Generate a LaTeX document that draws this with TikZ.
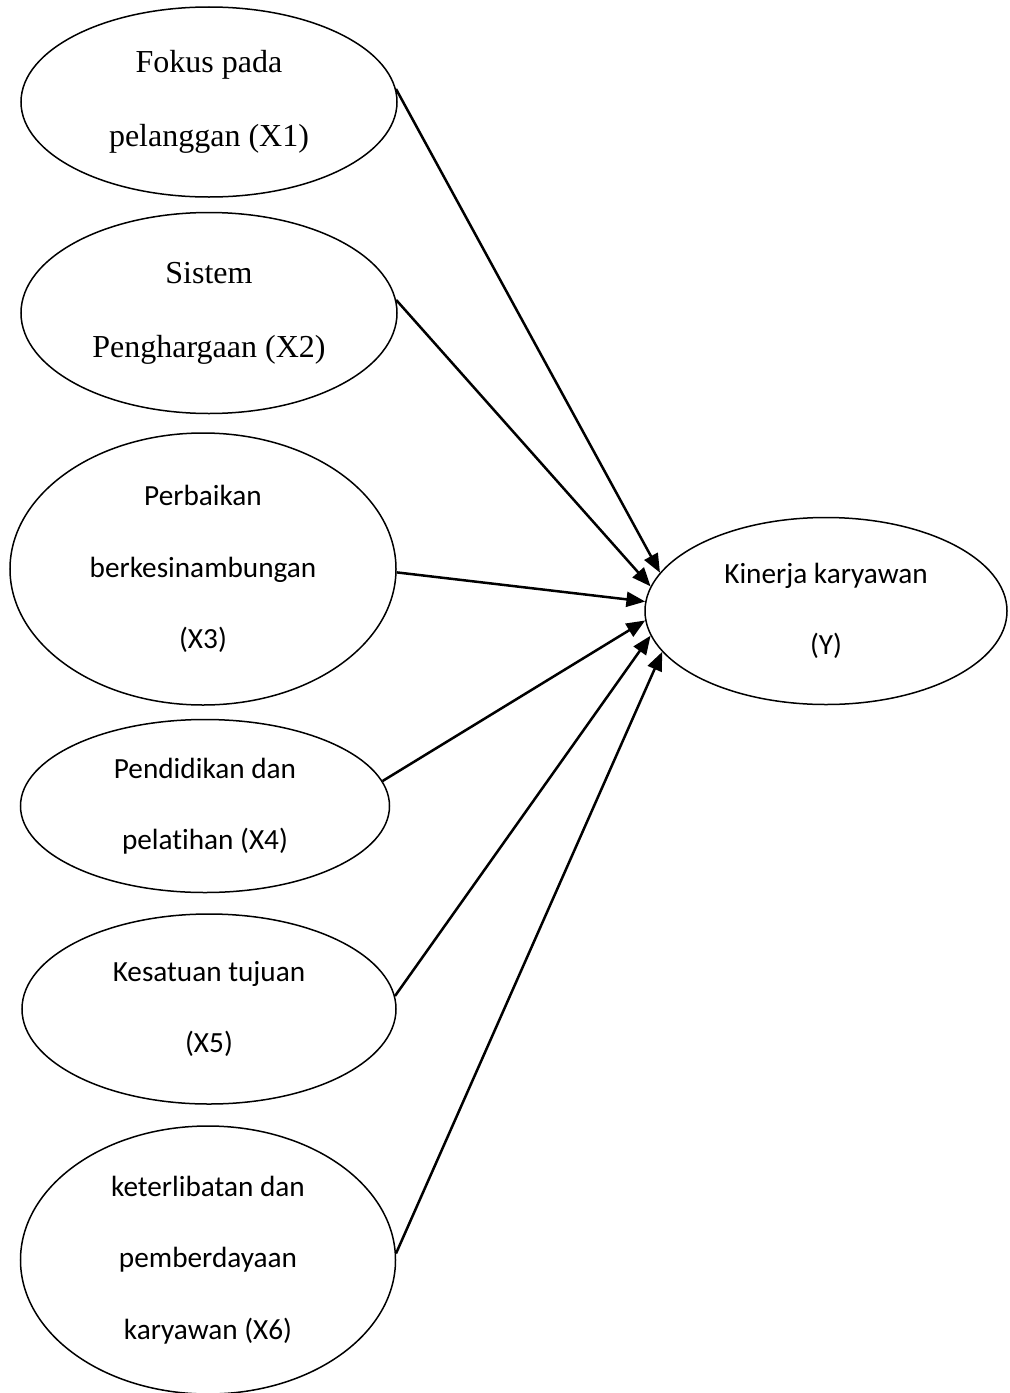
\documentclass[tikz,border=0pt]{standalone}
\usepackage{fontspec}
\setmainfont{Liberation Serif}
\newfontfamily\calibri[Ligatures=NoCommon]{Carlito}
\usetikzlibrary{shapes.geometric,arrows.meta}

\begin{document}
\begin{tikzpicture}[
    x=0.4pt, y=-0.4pt,
    oval/.style={ellipse, draw, line width=0.6pt, inner sep=0pt, align=center},
    serif/.style={font=\fontsize{12.8}{29.6}\selectfont},
    sans/.style={font=\calibri\fontsize{11.7}{28.6}\selectfont},
    arrow/.style={-{Triangle[length=7.5pt,width=6pt]}, line width=1pt},
]
\useasboundingbox (0,0) rectangle (1009,1393);

% Dependent variable
\node[oval, sans, minimum width=144.8pt, minimum height=74.8pt] (y) at (826,611) {Kinerja karyawan\\(Y)};

% Independent variables
\node[oval, serif, minimum width=150.4pt, minimum height=76pt] (x1) at (209,102) {Fokus pada\\pelanggan (X1)};
\node[oval, serif, minimum width=150.4pt, minimum height=80.4pt] (x2) at (209,313) {Sistem\\Penghargaan (X2)};
\node[oval, sans, minimum width=154.4pt, minimum height=108.8pt] (x3) at (203,569) {Perbaikan\\berkesinambungan\\(X3)};
\node[oval, sans, minimum width=147.6pt, minimum height=69.2pt] (x4) at (205,806) {Pendidikan dan\\pelatihan (X4)};
\node[oval, sans, minimum width=149.6pt, minimum height=76pt] (x5) at (209,1009) {Kesatuan tujuan\\(X5)};
\node[oval, sans, minimum width=150pt, minimum height=107.2pt] (x6) at (208,1260) {keterlibatan dan\\pemberdayaan\\karyawan (X6)};

% Arrows
\draw[arrow] (x1.4) -- (y.167);
\draw[arrow] (x2.4) -- (y.172);
\draw[arrow] (x3.-1) -- (y.177);
\draw[arrow] (x4.8) -- (y.183.5);
\draw[arrow] (x5.4) -- (y.188);
\draw[arrow] (x6.2) -- (y.194);

\end{tikzpicture}
\end{document}
